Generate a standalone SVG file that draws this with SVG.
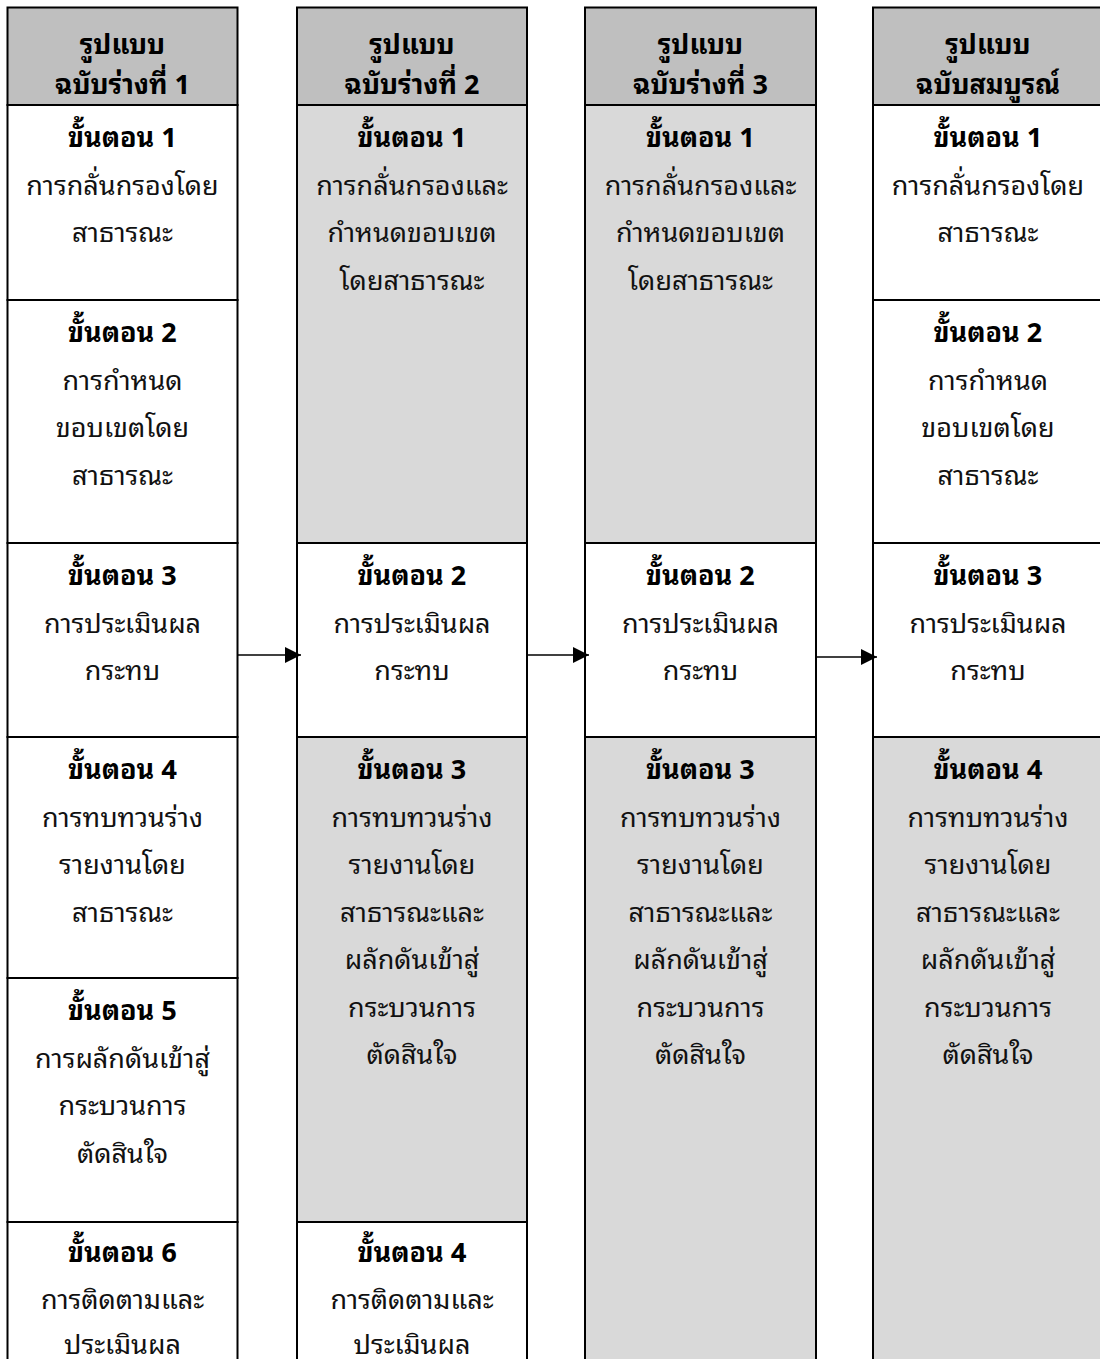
<svg xmlns="http://www.w3.org/2000/svg" width="1100" height="1359" viewBox="0 0 1100 1359">
  <style>
    .cell { stroke: #000; stroke-width: 2; }
    .head { fill: #bfbfbf; }
    .white { fill: #ffffff; }
    .gray { fill: #d9d9d9; }
    text { font-family: "Noto Sans Thai Looped", "Noto Looped Thai", Tahoma, "Leelawadee UI", Loma, Garuda, Waree, "Noto Sans Thai", "Noto Sans", sans-serif; font-size: 27px; text-anchor: middle; fill: #111; }
    .b { font-weight: bold; fill: #000; }
    .conn { stroke: #000; stroke-width: 1.6; fill: none; }
  </style>
  <defs>
    <marker id="arrow" viewBox="0 0 16 16" refX="16" refY="8" markerWidth="16" markerHeight="16" markerUnits="userSpaceOnUse" orient="auto">
      <path d="M0,0 L16,8 L0,16 z" fill="#000"/>
    </marker>
  </defs>
  <rect width="1100" height="1359" fill="#fff"/>

  <!-- Column 1: draft 1 -->
  <g id="col1">
    <g id="col1-head">
      <rect class="cell head" x="7.5" y="7.5" width="230" height="97.5"/>
      <text class="b" x="122.5" y="54">รูปแบบ</text>
      <text class="b" x="122.5" y="94">ฉบับร่างที่ 1</text>
    </g>
    <g id="col1-step1">
      <rect class="cell white" x="7.5" y="105" width="230" height="195"/>
      <text class="b" x="122.5" y="147">ขั้นตอน 1</text>
      <text x="122.5" y="194.5">การกลั่นกรองโดย</text>
      <text x="122.5" y="242">สาธารณะ</text>
    </g>
    <g id="col1-step2">
      <rect class="cell white" x="7.5" y="300" width="230" height="243"/>
      <text class="b" x="122.5" y="342">ขั้นตอน 2</text>
      <text x="122.5" y="389.5">การกำหนด</text>
      <text x="122.5" y="437">ขอบเขตโดย</text>
      <text x="122.5" y="484.5">สาธารณะ</text>
    </g>
    <g id="col1-step3">
      <rect class="cell white" x="7.5" y="543" width="230" height="194"/>
      <text class="b" x="122.5" y="585">ขั้นตอน 3</text>
      <text x="122.5" y="632.5">การประเมินผล</text>
      <text x="122.5" y="680">กระทบ</text>
    </g>
    <g id="col1-step4">
      <rect class="cell white" x="7.5" y="737" width="230" height="241"/>
      <text class="b" x="122.5" y="779">ขั้นตอน 4</text>
      <text x="122.5" y="826.5">การทบทวนร่าง</text>
      <text x="122.5" y="874">รายงานโดย</text>
      <text x="122.5" y="921.5">สาธารณะ</text>
    </g>
    <g id="col1-step5">
      <rect class="cell white" x="7.5" y="978" width="230" height="244"/>
      <text class="b" x="122.5" y="1020">ขั้นตอน 5</text>
      <text x="122.5" y="1067.5">การผลักดันเข้าสู่</text>
      <text x="122.5" y="1115">กระบวนการ</text>
      <text x="122.5" y="1162.5">ตัดสินใจ</text>
    </g>
    <g id="col1-step6">
      <rect class="cell white" x="7.5" y="1222" width="230" height="150"/>
      <text class="b" x="122.5" y="1262">ขั้นตอน 6</text>
      <text x="122.5" y="1308.5">การติดตามและ</text>
      <text x="122.5" y="1354">ประเมินผล</text>
    </g>
  </g>

  <!-- Column 2: draft 2 -->
  <g id="col2">
    <g id="col2-head">
      <rect class="cell head" x="297" y="7.5" width="230" height="97.5"/>
      <text class="b" x="412" y="54">รูปแบบ</text>
      <text class="b" x="412" y="94">ฉบับร่างที่ 2</text>
    </g>
    <g id="col2-step1">
      <rect class="cell gray" x="297" y="105" width="230" height="438"/>
      <text class="b" x="412" y="147">ขั้นตอน 1</text>
      <text x="412" y="194.5">การกลั่นกรองและ</text>
      <text x="412" y="242">กำหนดขอบเขต</text>
      <text x="412" y="289.5">โดยสาธารณะ</text>
    </g>
    <g id="col2-step2">
      <rect class="cell white" x="297" y="543" width="230" height="194"/>
      <text class="b" x="412" y="585">ขั้นตอน 2</text>
      <text x="412" y="632.5">การประเมินผล</text>
      <text x="412" y="680">กระทบ</text>
    </g>
    <g id="col2-step3">
      <rect class="cell gray" x="297" y="737" width="230" height="485"/>
      <text class="b" x="412" y="779">ขั้นตอน 3</text>
      <text x="412" y="826.5">การทบทวนร่าง</text>
      <text x="412" y="874">รายงานโดย</text>
      <text x="412" y="921.5">สาธารณะและ</text>
      <text x="412" y="969">ผลักดันเข้าสู่</text>
      <text x="412" y="1016.5">กระบวนการ</text>
      <text x="412" y="1064">ตัดสินใจ</text>
    </g>
    <g id="col2-step4">
      <rect class="cell white" x="297" y="1222" width="230" height="150"/>
      <text class="b" x="412" y="1262">ขั้นตอน 4</text>
      <text x="412" y="1308.5">การติดตามและ</text>
      <text x="412" y="1354">ประเมินผล</text>
    </g>
  </g>

  <!-- Column 3: draft 3 -->
  <g id="col3">
    <g id="col3-head">
      <rect class="cell head" x="585" y="7.5" width="231" height="97.5"/>
      <text class="b" x="700.5" y="54">รูปแบบ</text>
      <text class="b" x="700.5" y="94">ฉบับร่างที่ 3</text>
    </g>
    <g id="col3-step1">
      <rect class="cell gray" x="585" y="105" width="231" height="438"/>
      <text class="b" x="700.5" y="147">ขั้นตอน 1</text>
      <text x="700.5" y="194.5">การกลั่นกรองและ</text>
      <text x="700.5" y="242">กำหนดขอบเขต</text>
      <text x="700.5" y="289.5">โดยสาธารณะ</text>
    </g>
    <g id="col3-step2">
      <rect class="cell white" x="585" y="543" width="231" height="194"/>
      <text class="b" x="700.5" y="585">ขั้นตอน 2</text>
      <text x="700.5" y="632.5">การประเมินผล</text>
      <text x="700.5" y="680">กระทบ</text>
    </g>
    <g id="col3-step3">
      <rect class="cell gray" x="585" y="737" width="231" height="640"/>
      <text class="b" x="700.5" y="779">ขั้นตอน 3</text>
      <text x="700.5" y="826.5">การทบทวนร่าง</text>
      <text x="700.5" y="874">รายงานโดย</text>
      <text x="700.5" y="921.5">สาธารณะและ</text>
      <text x="700.5" y="969">ผลักดันเข้าสู่</text>
      <text x="700.5" y="1016.5">กระบวนการ</text>
      <text x="700.5" y="1064">ตัดสินใจ</text>
    </g>
  </g>

  <!-- Column 4: final version -->
  <g id="col4">
    <g id="col4-head">
      <rect class="cell head" x="873" y="7.5" width="240" height="97.5"/>
      <text class="b" x="988" y="54">รูปแบบ</text>
      <text class="b" x="988" y="94">ฉบับสมบูรณ์</text>
    </g>
    <g id="col4-step1">
      <rect class="cell white" x="873" y="105" width="240" height="195"/>
      <text class="b" x="988" y="147">ขั้นตอน 1</text>
      <text x="988" y="194.5">การกลั่นกรองโดย</text>
      <text x="988" y="242">สาธารณะ</text>
    </g>
    <g id="col4-step2">
      <rect class="cell white" x="873" y="300" width="240" height="243"/>
      <text class="b" x="988" y="342">ขั้นตอน 2</text>
      <text x="988" y="389.5">การกำหนด</text>
      <text x="988" y="437">ขอบเขตโดย</text>
      <text x="988" y="484.5">สาธารณะ</text>
    </g>
    <g id="col4-step3">
      <rect class="cell white" x="873" y="543" width="240" height="194"/>
      <text class="b" x="988" y="585">ขั้นตอน 3</text>
      <text x="988" y="632.5">การประเมินผล</text>
      <text x="988" y="680">กระทบ</text>
    </g>
    <g id="col4-step4">
      <rect class="cell gray" x="873" y="737" width="240" height="640"/>
      <text class="b" x="988" y="779">ขั้นตอน 4</text>
      <text x="988" y="826.5">การทบทวนร่าง</text>
      <text x="988" y="874">รายงานโดย</text>
      <text x="988" y="921.5">สาธารณะและ</text>
      <text x="988" y="969">ผลักดันเข้าสู่</text>
      <text x="988" y="1016.5">กระบวนการ</text>
      <text x="988" y="1064">ตัดสินใจ</text>
    </g>
  </g>

  <!-- Connectors between versions -->
  <g id="connectors">
    <line class="conn" x1="238" y1="655" x2="301" y2="655" marker-end="url(#arrow)"/>
    <line class="conn" x1="528" y1="655" x2="589" y2="655" marker-end="url(#arrow)"/>
    <line class="conn" x1="815" y1="657" x2="877" y2="657" marker-end="url(#arrow)"/>
  </g>
</svg>
